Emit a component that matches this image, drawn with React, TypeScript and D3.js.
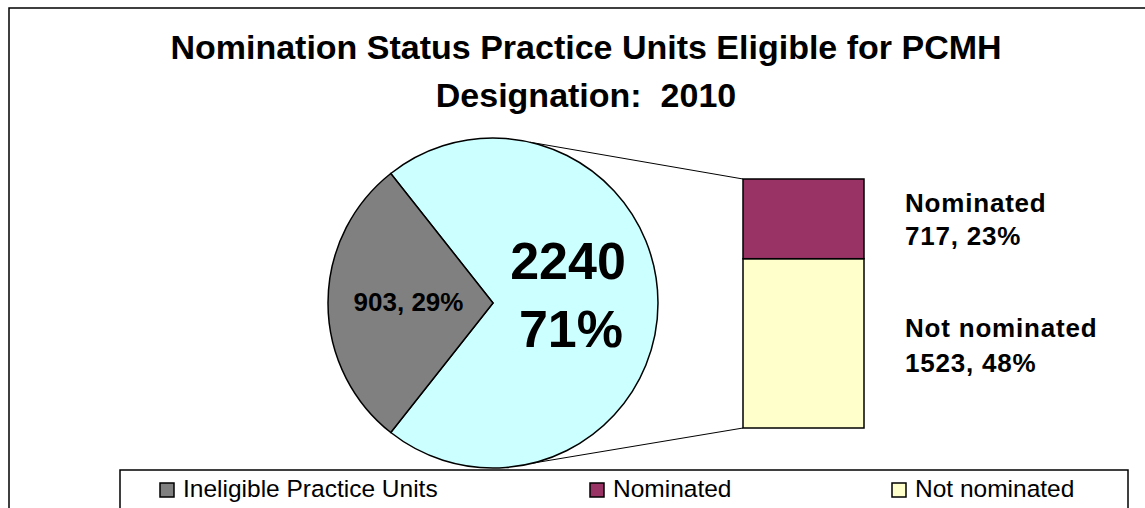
import React from "react";
import * as d3 from "d3";

const titleLines = ["Nomination Status Practice Units Eligible for PCMH", "Designation:\u00a0\u00a02010"];
const pieCategories = ["Eligible", "Ineligible Practice Units"];
const pieValues = [2240, 903];
const pieColors = ["#CCFFFF", "#808080"];
const barCategories = ["Not nominated", "Nominated"];
const barValues = [1523, 717];
const barColors = ["#FFFFCC", "#993366"];
const legendLabels = ["Ineligible Practice Units", "Nominated", "Not nominated"];
const legendColors = ["#808080", "#993366", "#FFFFCC"];

const W = 1145, H = 508;
const FONT = "'Liberation Sans', Arial, Helvetica, sans-serif";

export default function App() {
  const total = d3.sum(pieValues);
  const pct = (v: number) => Math.round((v / total) * 100);
  const cx = 493, cy = 303, r = 165;
  const bigSpan = (pieValues[0] / total) * 2 * Math.PI;
  const pie = d3.pie<number>().sort(null)
    .startAngle(Math.PI / 2 - bigSpan / 2)
    .endAngle(Math.PI / 2 - bigSpan / 2 + 2 * Math.PI);
  const arcs = pie(pieValues);
  const arcGen = d3.arc<d3.PieArcDatum<number>>().innerRadius(0).outerRadius(r);
  const smallArc = arcs[1];
  const smallCentroid = d3.arc<d3.PieArcDatum<number>>().innerRadius(0).outerRadius(r).centroid(smallArc);

  const barTotal = d3.sum(barValues);
  const y = d3.scaleLinear().domain([0, barTotal]).range([428, 179]);
  const bx0 = 743, bx1 = 864;
  const stacks: { y0: number; y1: number; i: number }[] = [];
  let acc = 0;
  barValues.forEach((v, i) => { stacks.push({ y0: acc, y1: acc + v, i }); acc += v; });

  const a1 = (13 * Math.PI) / 180, a2 = (166 * Math.PI) / 180;
  const p1 = [cx + r * Math.sin(a1), cy - r * Math.cos(a1)];
  const p2 = [cx + r * Math.sin(a2), cy - r * Math.cos(a2)];

  const labelYs = [[337, 372], [212, 245]];
  const legendXs = [160, 590, 892];

  return (
    <svg width={W} height={H} style={{ position: "absolute", left: 0, top: 0 }} fontFamily={FONT}>
      <rect x={0} y={0} width={W} height={H} fill="#fff" />
      <rect x={9} y={8} width={1160} height={520} fill="#fff" stroke="#000" strokeWidth={1.5} />
      {titleLines.map((t, i) => (
        <text key={i} x={586} y={59 + i * 48} textAnchor="middle" fontSize={34} fontWeight="bold">{t}</text>
      ))}
      <line x1={p1[0]} y1={p1[1]} x2={bx0} y2={y(barTotal)} stroke="#000" strokeWidth={1} />
      <line x1={p2[0]} y1={p2[1]} x2={bx0} y2={y(0)} stroke="#000" strokeWidth={1} />
      <g transform={`translate(${cx},${cy})`}>
        {arcs.map((a, i) => (
          <path key={i} d={arcGen(a) || ""} fill={pieColors[i]} stroke="#000" strokeWidth={1.5} strokeLinejoin="miter" />
        ))}
        <text x={smallCentroid[0] - 2} y={smallCentroid[1] + 8} textAnchor="middle" fontSize={26} fontWeight="bold">
          {`${pieValues[1]}, ${pct(pieValues[1])}%`}
        </text>
      </g>
      <text x={568} y={279} textAnchor="middle" fontSize={52} fontWeight="bold">{pieValues[0]}</text>
      <text x={571} y={347} textAnchor="middle" fontSize={52} fontWeight="bold">{`${pct(pieValues[0])}%`}</text>
      {stacks.map((s) => (
        <rect key={s.i} x={bx0} y={y(s.y1)} width={bx1 - bx0} height={y(s.y0) - y(s.y1)}
          fill={barColors[s.i]} stroke="#000" strokeWidth={1.5} />
      ))}
      {stacks.map((s) => (
        <g key={"l" + s.i} fontSize={26} fontWeight="bold" letterSpacing={0.8}>
          <text x={905} y={labelYs[s.i][0]}>{barCategories[s.i]}</text>
          <text x={905} y={labelYs[s.i][1]}>{`${barValues[s.i]}, ${pct(barValues[s.i])}%`}</text>
        </g>
      ))}
      <rect x={120} y={470} width={1008} height={60} fill="#fff" stroke="#000" strokeWidth={1.5} />
      {legendLabels.map((l, i) => (
        <g key={l}>
          <rect x={legendXs[i]} y={483} width={14} height={14} fill={legendColors[i]} stroke="#000" strokeWidth={1.5} />
          <text x={legendXs[i] + 23} y={497} fontSize={24.5}>{l}</text>
        </g>
      ))}
    </svg>
  );
}
